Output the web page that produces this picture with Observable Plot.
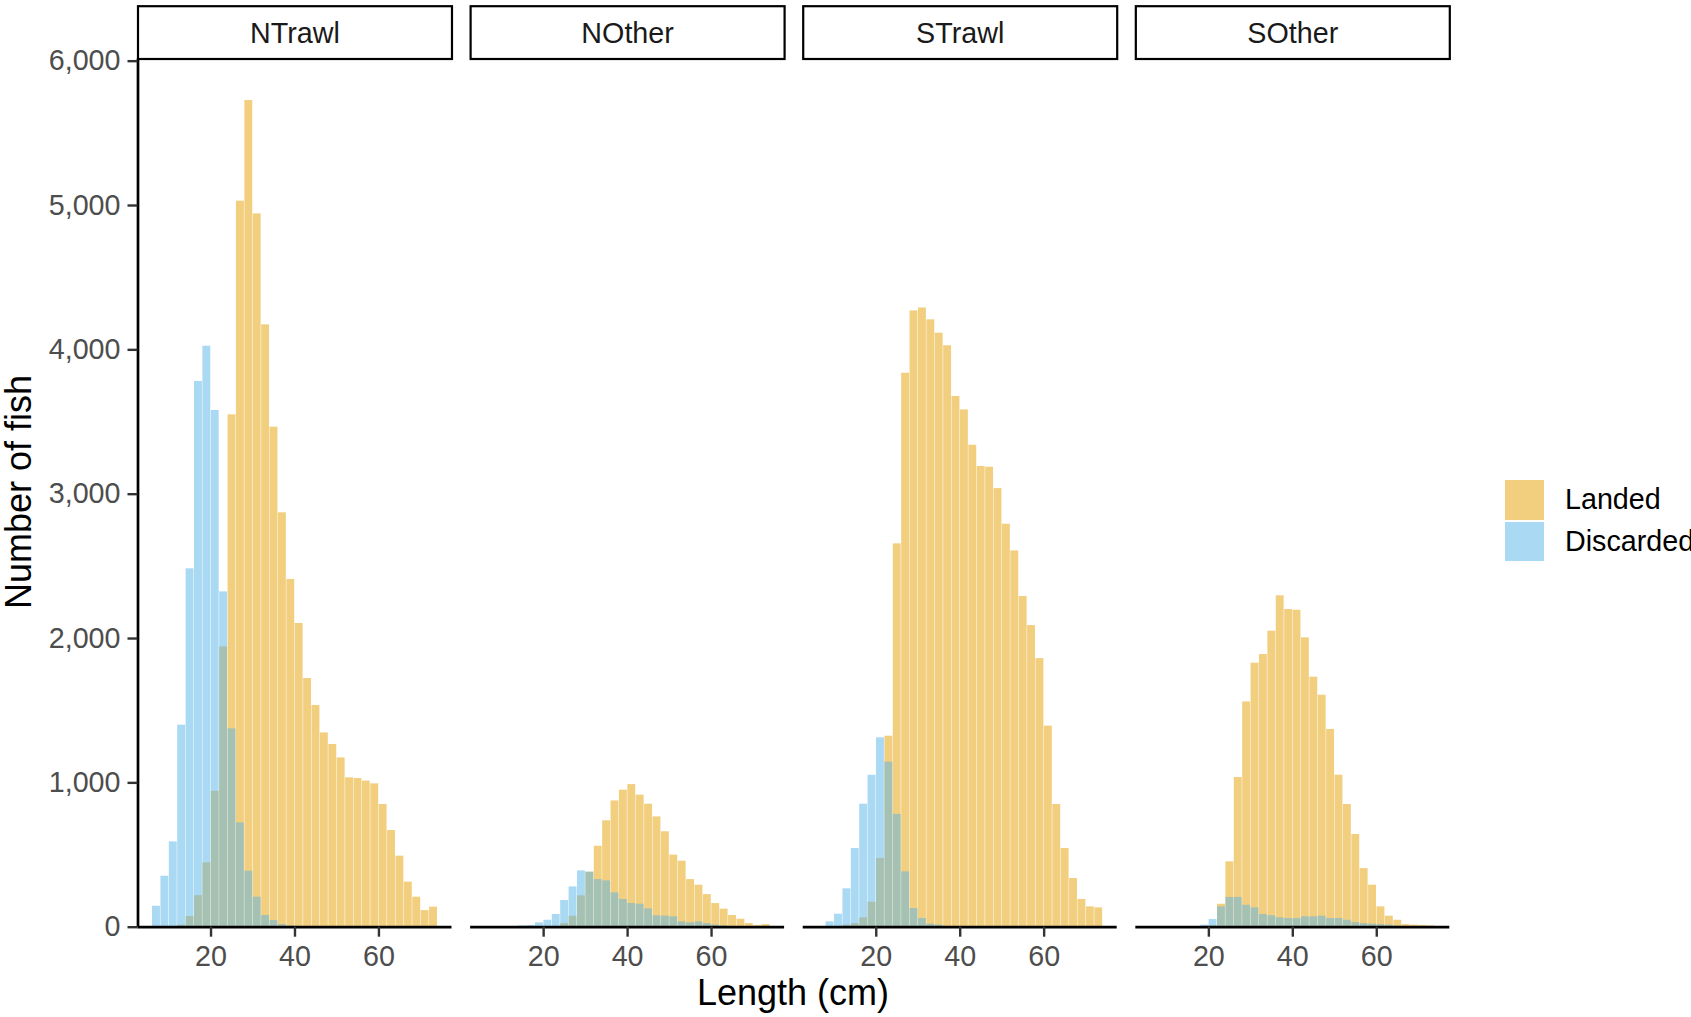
<!DOCTYPE html>
<html>
<head>
<meta charset="utf-8">
<script src="https://cdn.jsdelivr.net/npm/d3@7"></script>
<script src="https://cdn.jsdelivr.net/npm/@observablehq/plot@0.6"></script>
<style>
  html, body { margin: 0; padding: 0; background: #fff; }
  #wrap { position: relative; width: 1691px; height: 1017px; overflow: hidden; font-family: "Liberation Sans", Arial, Helvetica, sans-serif; }
  #wrap svg { position: absolute; left: 0; top: 0; }
  .title { position: absolute; color: #000; font-size: 36px; white-space: nowrap; line-height: 1; }
  .ytitle { left: 19.4px; top: 492px; transform: translate(-50%, -50%) rotate(-90deg); }
  .xtitle { left: 793px; top: 993px; transform: translate(-50%, -50%); }
  .legend { position: absolute; left: 1505px; top: 479px; }
  .legend .row { display: flex; align-items: center; height: 41.5px; }
  .legend .key { width: 39px; height: 39.5px; margin-right: 21px; }
  .legend .lab { font-size: 28.7px; color: #000; white-space: nowrap; }
</style>
</head>
<body>
<div id="wrap"></div>
<script>
// ---- data ----
const facets = ["NTrawl", "NOther", "STrawl", "SOther"];
const types = ["Landed", "Discarded"];
const typeColors = ["#E69F00", "#56B4E9"];
const binWidth = 2;
const binStart = [6, 8, 10, 12, 14, 16, 18, 20, 22, 24, 26, 28, 30, 32, 34, 36, 38, 40,
                  42, 44, 46, 48, 50, 52, 54, 56, 58, 60, 62, 64, 66, 68, 70, 72];

const ntrawlLanded    = [0, 0, 0, 14, 74, 219, 446, 942, 1942, 3550, 5030, 5727, 4942, 4173, 3464, 2871, 2409, 2104,
                         1723, 1536, 1346, 1266, 1173, 1035, 1030, 1012, 993, 850, 670, 492, 312, 208, 115, 139];
const ntrawlDiscarded = [145, 353, 591, 1400, 2483, 3781, 4025, 3580, 2323, 1374, 723, 388, 208, 81, 46, 18, 8, 4,
                         0, 0, 0, 0, 0, 0, 0, 0, 0, 0, 0, 0, 0, 0, 0, 0];
const notherLanded    = [0, 0, 0, 0, 0, 0, 0, 0, 5, 25, 76, 217, 381, 561, 737, 875, 949, 988,
                         915, 852, 764, 661, 499, 457, 330, 291, 226, 164, 125, 81, 55, 25, 12, 18];
const notherDiscarded = [0, 0, 0, 3, 9, 12, 30, 48, 88, 185, 279, 390, 381, 330, 321, 238, 192, 164,
                         159, 127, 79, 76, 72, 37, 30, 37, 25, 14, 9, 5, 2, 0, 0, 0];
const strawlLanded    = [0, 0, 0, 14, 25, 65, 173, 476, 1323, 2656, 3838, 4270, 4290, 4208, 4115, 4028, 3677, 3584,
                         3339, 3192, 3187, 3039, 2792, 2607, 2291, 2090, 1861, 1393, 850, 545, 337, 192, 141, 134];
const strawlDiscarded = [0, 37, 90, 266, 545, 852, 1053, 1312, 1143, 781, 383, 129, 60, 21, 14, 5, 0, 0,
                         0, 0, 0, 0, 0, 0, 0, 0, 0, 0, 0, 0, 0, 0, 0, 0];
const sotherLanded    = [0, 0, 0, 0, 0, 0, 0, 10, 159, 453, 1037, 1561, 1829, 1889, 2051, 2296, 2201, 2196,
                         2005, 1732, 1607, 1370, 1053, 850, 642, 406, 291, 141, 76, 48, 18, 14, 12, 9];
const sotherDiscarded = [0, 0, 0, 0, 0, 5, 14, 53, 141, 206, 206, 152, 134, 88, 79, 65, 60, 60,
                         72, 72, 76, 60, 60, 48, 32, 25, 21, 18, 14, 8, 5, 3, 2, 0];

const yTicks = [0, 1000, 2000, 3000, 4000, 5000, 6000];
const xTicks = [20, 40, 60];
const xDomain = [2.6, 77.4];
const yDomain = [0, 6015];

// ---- build table ----
const series = {
  NTrawl: {Landed: ntrawlLanded, Discarded: ntrawlDiscarded},
  NOther: {Landed: notherLanded, Discarded: notherDiscarded},
  STrawl: {Landed: strawlLanded, Discarded: strawlDiscarded},
  SOther: {Landed: sotherLanded, Discarded: sotherDiscarded}
};
const rows = [];
for (const f of facets) for (const t of types) {
  series[f][t].forEach((n, i) => {
    if (n > 0) rows.push({gear: f, type: t, x1: binStart[i], x2: binStart[i] + binWidth, n});
  });
}

const font = '"Liberation Sans", Arial, Helvetica, sans-serif';
const marginTop = 58.5, marginBottom = 90.3;
const H = 1017;
const panelH = H - marginTop - marginBottom;

const barOpts = t => ({
  fx: "gear", x1: "x1", x2: "x2", y1: () => 0, y2: "n",
  fill: "type", fillOpacity: 0.5, insetLeft: 0.25, insetRight: 0.25
});

const chart = Plot.plot({
  width: 1691,
  height: H,
  marginLeft: 137.5,
  marginRight: 241.7,
  marginTop,
  marginBottom,
  style: {fontFamily: font, background: "white", overflow: "visible"},
  fx: {domain: facets, paddingInner: 0.056, paddingOuter: 0, axis: null, label: null, round: false},
  x: {domain: xDomain, axis: null},
  y: {domain: yDomain, axis: null},
  color: {domain: types, range: typeColors},
  marks: [
    // facet strips
    Plot.frame({fill: "white", stroke: "black", strokeWidth: 2.2, insetTop: -(marginTop - 5.7), insetBottom: panelH}),
    Plot.text(facets, {fx: d => d, text: d => d, frameAnchor: "top", dy: -(marginTop - 33), fontSize: 28.7, fill: "#1A1A1A", lineAnchor: "middle"}),
    // histograms
    Plot.rect(rows.filter(d => d.type === "Landed"), barOpts("Landed")),
    Plot.rect(rows.filter(d => d.type === "Discarded"), barOpts("Discarded")),
    // axis lines
    Plot.ruleY([0], {stroke: "black", strokeWidth: 2.7}),
    Plot.ruleX([{gear: facets[0]}], {fx: "gear", x: () => xDomain[0], stroke: "black", strokeWidth: 2.7}),
    // axes
    Plot.axisY(yTicks, {anchor: "left", tickFormat: d3.format(","), tickSize: 10, tickPadding: 7.5,
      fontSize: 28.7, fill: "#4D4D4D", stroke: "#333333", strokeWidth: 2.4, label: null}),
    Plot.axisX(xTicks, {anchor: "bottom", tickSize: 10, tickPadding: 8.3,
      fontSize: 28.7, fill: "#4D4D4D", stroke: "#333333", strokeWidth: 2.4, label: null})
  ]
});

const wrap = document.getElementById("wrap");
wrap.appendChild(chart);

// axis titles
const yt = document.createElement("div");
yt.className = "title ytitle";
yt.textContent = "Number of fish";
wrap.appendChild(yt);
const xt = document.createElement("div");
xt.className = "title xtitle";
xt.textContent = "Length (cm)";
wrap.appendChild(xt);

// legend
const leg = document.createElement("div");
leg.className = "legend";
types.forEach((t, i) => {
  const row = document.createElement("div");
  row.className = "row";
  const key = document.createElement("div");
  key.className = "key";
  key.style.background = typeColors[i];
  key.style.opacity = 0.5;
  const lab = document.createElement("div");
  lab.className = "lab";
  lab.textContent = t;
  row.appendChild(key);
  row.appendChild(lab);
  leg.appendChild(row);
});
wrap.appendChild(leg);
</script>
</body>
</html>
